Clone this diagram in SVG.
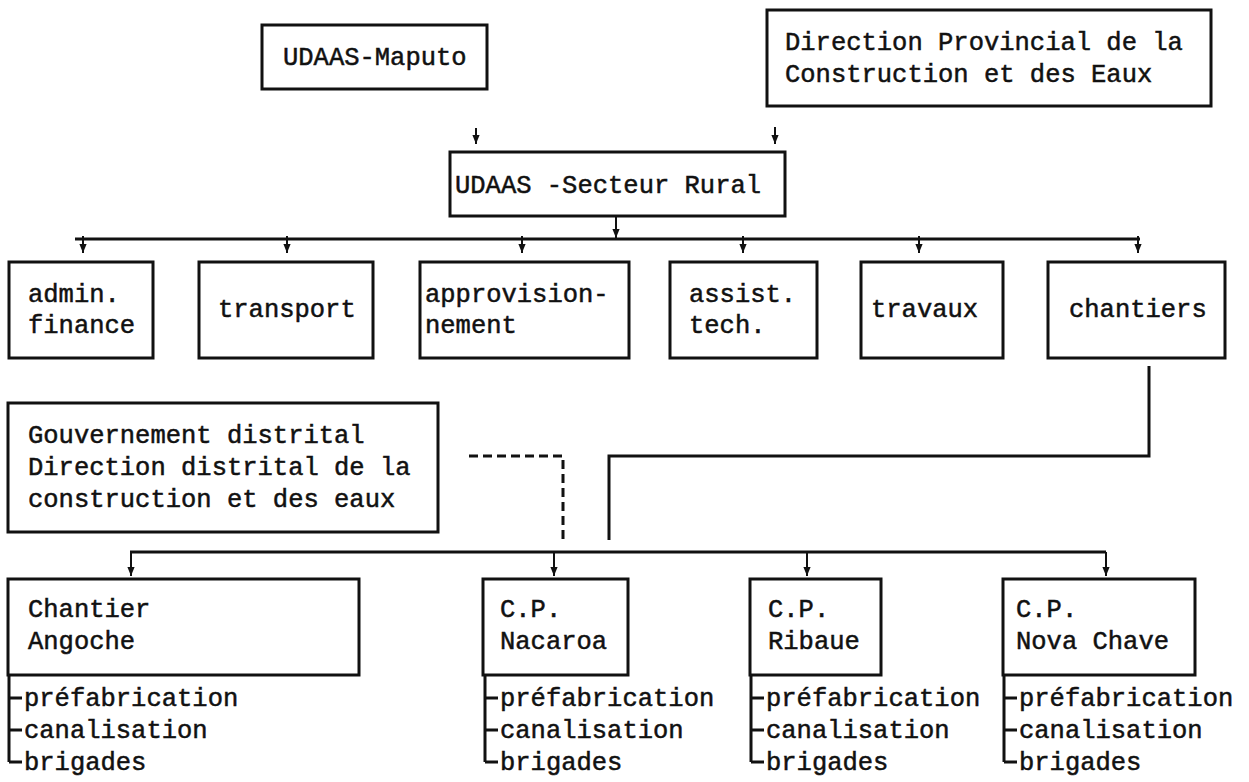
<svg xmlns="http://www.w3.org/2000/svg" width="1249" height="782" viewBox="0 0 1249 782">
<defs>
<style>
.box{fill:#fff;stroke:#111;stroke-width:3}
.t{font-family:"Liberation Mono","DejaVu Sans Mono",monospace;font-size:25.5px;fill:#111;stroke:#111;stroke-width:0.5}
.ln{fill:none;stroke:#111;stroke-width:3}
.dash{fill:none;stroke:#111;stroke-width:3;stroke-dasharray:9 5}
.ar{fill:none;stroke:#111;stroke-width:2;marker-end:url(#ah)}
</style>
<marker id="ah" viewBox="0 0 10 10" refX="10" refY="5" markerWidth="9" markerHeight="9" orient="auto" markerUnits="userSpaceOnUse">
<path d="M0,1 L10,5 L0,9 Z" fill="#111"/>
</marker>
</defs>
<rect width="1249" height="782" fill="#fff"/>

<g id="connectors">
<line class="ar" x1="476" y1="128" x2="476" y2="144"/>
<line class="ar" x1="775" y1="127" x2="775" y2="144"/>
<line class="ar" x1="616" y1="217" x2="616" y2="238"/>
<line class="ln" x1="75" y1="239" x2="1140" y2="239"/>
<line class="ar" x1="83" y1="236" x2="83" y2="253"/>
<line class="ar" x1="287" y1="236" x2="287" y2="253"/>
<line class="ar" x1="522" y1="236" x2="522" y2="253"/>
<line class="ar" x1="743" y1="236" x2="743" y2="253"/>
<line class="ar" x1="919" y1="236" x2="919" y2="253"/>
<line class="ar" x1="1138" y1="236" x2="1138" y2="253"/>
<path class="ln" d="M1149,366 V456 H609 V540"/>
<path class="dash" d="M469,456 H563 V540"/>
<line class="ln" x1="130" y1="552" x2="1106" y2="552"/>
<line class="ar" x1="131" y1="552" x2="131" y2="576"/>
<line class="ar" x1="554" y1="552" x2="554" y2="576"/>
<line class="ar" x1="807" y1="552" x2="807" y2="576"/>
<line class="ar" x1="1106" y1="552" x2="1106" y2="576"/>
<path class="ln" d="M9,675 V762 M9,698 H22 M9,730 H22 M9,762 H22"/>
<path class="ln" d="M485,675 V762 M485,698 H498 M485,730 H498 M485,762 H498"/>
<path class="ln" d="M751,675 V762 M751,698 H764 M751,730 H764 M751,762 H764"/>
<path class="ln" d="M1004,675 V762 M1004,698 H1017 M1004,730 H1017 M1004,762 H1017"/>
</g>

<g id="udaas-maputo">
<rect class="box" x="262" y="25" width="225" height="64"/>
<text class="t" x="283" y="65">UDAAS-Maputo</text>
</g>
<g id="direction-provinciale">
<rect class="box" x="767" y="10" width="444" height="96"/>
<text class="t" x="785" y="50">Direction Provincial de la</text>
<text class="t" x="785" y="82">Construction et des Eaux</text>
</g>
<g id="udaas-secteur-rural">
<rect class="box" x="450" y="152" width="335" height="64"/>
<text class="t" x="455" y="193">UDAAS -Secteur Rural</text>
</g>

<g id="admin-finance">
<rect class="box" x="9" y="262" width="144" height="96"/>
<text class="t" x="28" y="302">admin.</text>
<text class="t" x="28" y="333">finance</text>
</g>
<g id="transport">
<rect class="box" x="199" y="262" width="174" height="96"/>
<text class="t" x="218" y="317">transport</text>
</g>
<g id="approvisionnement">
<rect class="box" x="420" y="262" width="209" height="96"/>
<text class="t" x="425" y="302">approvision-</text>
<text class="t" x="425" y="333">nement</text>
</g>
<g id="assist-tech">
<rect class="box" x="670" y="262" width="147" height="96"/>
<text class="t" x="689" y="302">assist.</text>
<text class="t" x="689" y="333">tech.</text>
</g>
<g id="travaux">
<rect class="box" x="861" y="262" width="142" height="96"/>
<text class="t" x="871" y="317">travaux</text>
</g>
<g id="chantiers">
<rect class="box" x="1048" y="262" width="177" height="96"/>
<text class="t" x="1069" y="317">chantiers</text>
</g>

<g id="gouvernement-distrital">
<rect class="box" x="8" y="403" width="430" height="129"/>
<text class="t" x="28" y="443">Gouvernement distrital</text>
<text class="t" x="28" y="475">Direction distrital de la</text>
<text class="t" x="28" y="507">construction et des eaux</text>
</g>

<g id="chantier-angoche">
<rect class="box" x="8" y="579" width="351" height="96"/>
<text class="t" x="28" y="617">Chantier</text>
<text class="t" x="28" y="649">Angoche</text>
<text class="t" x="24" y="706">préfabrication</text>
<text class="t" x="24" y="738">canalisation</text>
<text class="t" x="24" y="770">brigades</text>
</g>
<g id="cp-nacaroa">
<rect class="box" x="483" y="579" width="145" height="96"/>
<text class="t" x="500" y="617">C.P.</text>
<text class="t" x="500" y="649">Nacaroa</text>
<text class="t" x="500" y="706">préfabrication</text>
<text class="t" x="500" y="738">canalisation</text>
<text class="t" x="500" y="770">brigades</text>
</g>
<g id="cp-ribaue">
<rect class="box" x="750" y="579" width="131" height="96"/>
<text class="t" x="768" y="617">C.P.</text>
<text class="t" x="768" y="649">Ribaue</text>
<text class="t" x="766" y="706">préfabrication</text>
<text class="t" x="766" y="738">canalisation</text>
<text class="t" x="766" y="770">brigades</text>
</g>
<g id="cp-nova-chave">
<rect class="box" x="1003" y="579" width="192" height="96"/>
<text class="t" x="1016" y="617">C.P.</text>
<text class="t" x="1016" y="649">Nova Chave</text>
<text class="t" x="1019" y="706">préfabrication</text>
<text class="t" x="1019" y="738">canalisation</text>
<text class="t" x="1019" y="770">brigades</text>
</g>
</svg>
